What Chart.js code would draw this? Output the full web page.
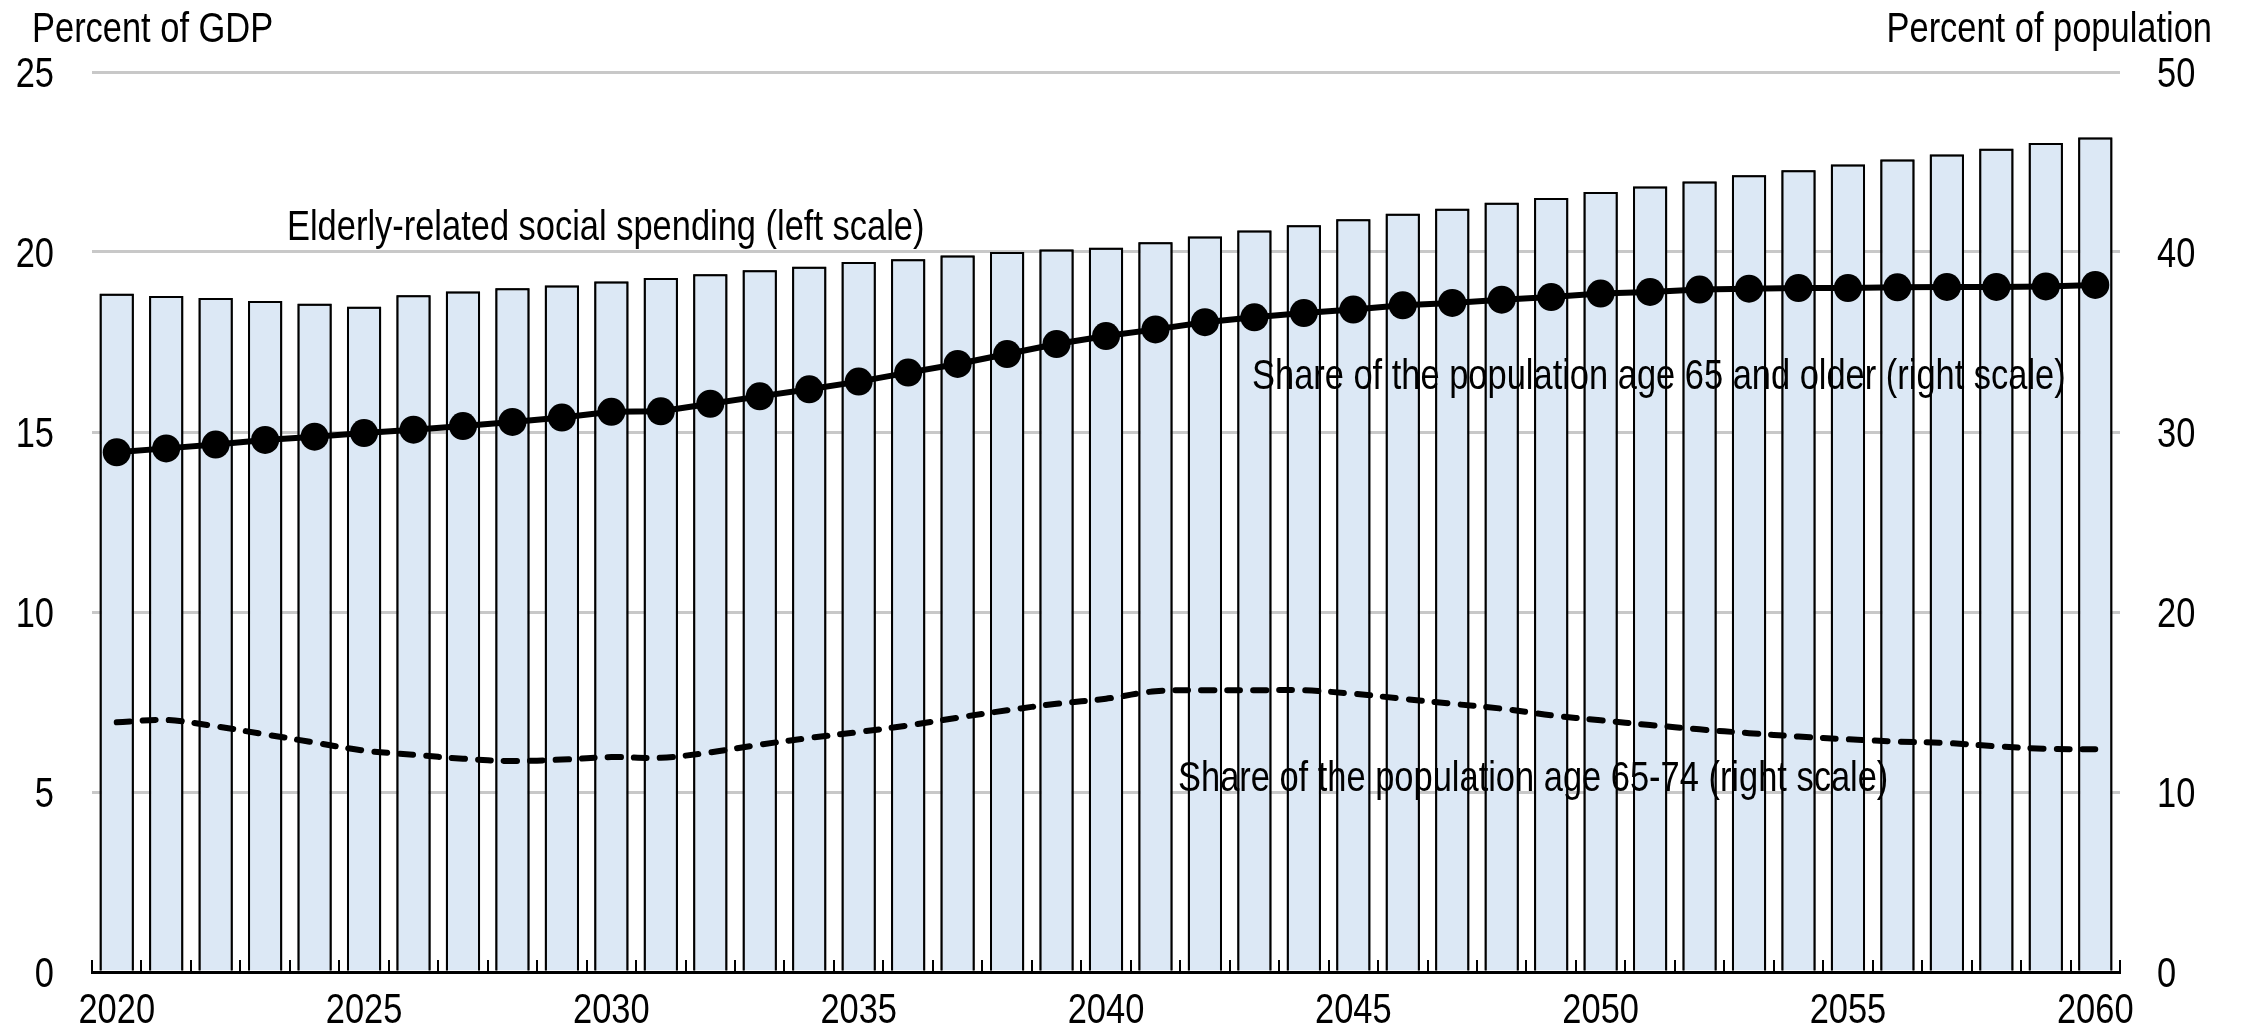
<!DOCTYPE html>
<html>
<head>
<meta charset="utf-8">
<script src="https://cdn.jsdelivr.net/npm/chart.js@4.4.1/dist/chart.umd.min.js"></script>
<style>
  html, body { margin: 0; padding: 0; background: #ffffff; }
  #wrap { width: 2244px; height: 1028px; }
</style>
</head>
<body>
<div id="wrap"><canvas id="chart" width="2244" height="1028"></canvas></div>
<script>
// Years on the horizontal axis
const years = [2020, 2021, 2022, 2023, 2024, 2025, 2026, 2027, 2028, 2029,
               2030, 2031, 2032, 2033, 2034, 2035, 2036, 2037, 2038, 2039,
               2040, 2041, 2042, 2043, 2044, 2045, 2046, 2047, 2048, 2049,
               2050, 2051, 2052, 2053, 2054, 2055, 2056, 2057, 2058, 2059, 2060];

// Elderly-related social spending, percent of GDP (left scale)
const spending = [18.84, 18.78, 18.72, 18.64, 18.56, 18.48, 18.80, 18.90, 18.99, 19.07,
                  19.18, 19.28, 19.38, 19.49, 19.59, 19.72, 19.80, 19.90, 20.00, 20.07,
                  20.12, 20.27, 20.43, 20.60, 20.74, 20.91, 21.06, 21.20, 21.37, 21.50,
                  21.67, 21.82, 21.96, 22.13, 22.27, 22.43, 22.57, 22.71, 22.87, 23.03, 23.18];

// Share of the population age 65 and older, percent (right scale)
const share65plus = [28.87, 29.09, 29.30, 29.56, 29.74, 29.94, 30.13, 30.33, 30.56, 30.80,
                     31.12, 31.15, 31.57, 31.98, 32.37, 32.80, 33.30, 33.78, 34.33, 34.89,
                     35.33, 35.70, 36.10, 36.37, 36.61, 36.80, 37.04, 37.17, 37.35, 37.50,
                     37.69, 37.78, 37.91, 37.96, 38.00, 38.00, 38.04, 38.06, 38.06, 38.09, 38.17];

// Share of the population age 65-74, percent (right scale)
const share65to74 = [13.87, 14.00, 13.65, 13.20, 12.75, 12.30, 12.07, 11.85, 11.72, 11.80,
                     11.94, 11.90, 12.20, 12.63, 13.00, 13.33, 13.70, 14.13, 14.54, 14.90,
                     15.18, 15.60, 15.65, 15.65, 15.65, 15.46, 15.18, 14.90, 14.63, 14.26,
                     13.98, 13.72, 13.48, 13.27, 13.08, 12.93, 12.80, 12.72, 12.54, 12.40, 12.37];

// Axis ticks
const leftTicks = [0, 5, 10, 15, 20, 25];
const rightTicks = [0, 10, 20, 30, 40, 50];
const labelledYears = [2020, 2025, 2030, 2035, 2040, 2045, 2050, 2055, 2060];

const FONT = "'Liberation Sans', Arial, sans-serif";
const FONT_SIZE = 42;
const NARROW = 0.82;          // horizontal squeeze giving a narrow face
const BAR_BORDER = 2;

// Draws a string in the narrow face, anchored at (x, y)
function narrowText(ctx, text, x, y, align) {
  ctx.save();
  ctx.translate(x, y);
  ctx.scale(NARROW, 1);
  ctx.font = FONT_SIZE + 'px ' + FONT;
  ctx.fillStyle = '#000000';
  ctx.textAlign = align;
  ctx.textBaseline = 'alphabetic';
  ctx.fillText(text, 0, 0);
  ctx.restore();
}

// Half the digit height, used to centre numbers on a position
const DIGIT_HALF = FONT_SIZE * 0.716 / 2;

// Titles, series labels, axis labels, inward tick marks and bar edges over the labels
const decorations = {
  id: 'decorations',
  afterDatasetDraw(chart, args) {
    if (args.meta.type !== 'bar') return;
    const ctx = chart.ctx;
    narrowText(ctx, 'Elderly-related social spending (left scale)', 287, 240, 'left');
    narrowText(ctx, 'Share of the population age 65 and older (right scale)', 1252, 389, 'left');
    narrowText(ctx, 'Share of the population age 65-74 (right scale)', 1178, 791, 'left');
    // bar edges stay in front of the series labels
    ctx.save();
    ctx.strokeStyle = '#000000';
    ctx.lineWidth = BAR_BORDER;
    args.meta.data.forEach(el => {
      const p = el.getProps(['x', 'y', 'base', 'width'], true);
      const l = p.x - p.width / 2 + BAR_BORDER / 2;
      const r = p.x + p.width / 2 - BAR_BORDER / 2;
      ctx.beginPath();
      ctx.moveTo(l, p.base);
      ctx.lineTo(l, p.y + BAR_BORDER / 2);
      ctx.lineTo(r, p.y + BAR_BORDER / 2);
      ctx.lineTo(r, p.base);
      ctx.stroke();
    });
    ctx.restore();
  },
  afterDraw(chart) {
    const ctx = chart.ctx;
    const area = chart.chartArea;
    const xs = chart.scales.x;
    const yl = chart.scales.yLeft;
    const yr = chart.scales.yRight;

    // inward tick marks on category boundaries
    ctx.save();
    ctx.strokeStyle = '#000000';
    ctx.lineWidth = 2;
    const n = years.length;
    const step = (area.right - area.left) / n;
    for (let i = 0; i <= n; i++) {
      const x = Math.round(area.left + i * step);
      ctx.beginPath();
      ctx.moveTo(x, area.bottom);
      ctx.lineTo(x, area.bottom - 12);
      ctx.stroke();
    }
    ctx.restore();

    // value axis labels
    leftTicks.forEach(v => {
      narrowText(ctx, String(v), area.left - 38, yl.getPixelForValue(v) + DIGIT_HALF, 'right');
    });
    rightTicks.forEach(v => {
      narrowText(ctx, String(v), area.right + 37, yr.getPixelForValue(v) + DIGIT_HALF, 'left');
    });
    // year labels
    years.forEach((y, i) => {
      if (labelledYears.includes(y)) {
        narrowText(ctx, String(y), xs.getPixelForValue(i), area.bottom + 21 + 2 * DIGIT_HALF, 'center');
      }
    });

    // axis titles
    narrowText(ctx, 'Percent of GDP', 32, 42, 'left');
    narrowText(ctx, 'Percent of population', 2212, 42, 'right');
  }
};

new Chart(document.getElementById('chart'), {
  data: {
    labels: years,
    datasets: [
      {
        type: 'bar',
        label: 'Elderly-related social spending (left scale)',
        data: spending,
        yAxisID: 'yLeft',
        backgroundColor: '#DCE8F5',
        borderColor: '#000000',
        borderWidth: BAR_BORDER,
        categoryPercentage: 1.0,
        barPercentage: 0.69,
        order: 3
      },
      {
        type: 'line',
        label: 'Share of the population age 65 and older (right scale)',
        data: share65plus,
        yAxisID: 'yRight',
        borderColor: '#000000',
        backgroundColor: '#000000',
        borderWidth: 6,
        pointRadius: 14,
        pointBorderWidth: 0,
        pointBackgroundColor: '#000000',
        tension: 0,
        order: 1
      },
      {
        type: 'line',
        label: 'Share of the population age 65-74 (right scale)',
        data: share65to74,
        yAxisID: 'yRight',
        borderColor: '#000000',
        borderWidth: 6,
        borderDash: [13, 13],
        borderCapStyle: 'round',
        pointRadius: 0,
        tension: 0.35,
        order: 2
      }
    ]
  },
  options: {
    responsive: false,
    animation: false,
    devicePixelRatio: 1,
    layout: { padding: { top: 72, left: 0, right: 0, bottom: 0 } },
    plugins: {
      legend: { display: false },
      tooltip: { enabled: false },
      title: { display: false }
    },
    scales: {
      x: {
        type: 'category',
        offset: true,
        grid: { display: false, drawTicks: false },
        border: { display: true, color: '#000000', width: 3, z: 1 },
        ticks: { display: false, autoSkip: false, maxRotation: 0 },
        afterFit: s => { s.height = 56; }
      },
      yLeft: {
        type: 'linear',
        position: 'left',
        min: leftTicks[0],
        max: leftTicks[leftTicks.length - 1],
        afterBuildTicks: s => { s.ticks = leftTicks.map(v => ({ value: v })); },
        grid: { color: '#C8C8C8', lineWidth: 3, drawTicks: false },
        border: { display: false },
        ticks: { display: false },
        afterFit: s => { s.width = 92; }
      },
      yRight: {
        type: 'linear',
        position: 'right',
        min: rightTicks[0],
        max: rightTicks[rightTicks.length - 1],
        afterBuildTicks: s => { s.ticks = rightTicks.map(v => ({ value: v })); },
        grid: { display: false, drawTicks: false },
        border: { display: false },
        ticks: { display: false },
        afterFit: s => { s.width = 124; }
      }
    }
  },
  plugins: [decorations]
});
</script>
</body>
</html>
